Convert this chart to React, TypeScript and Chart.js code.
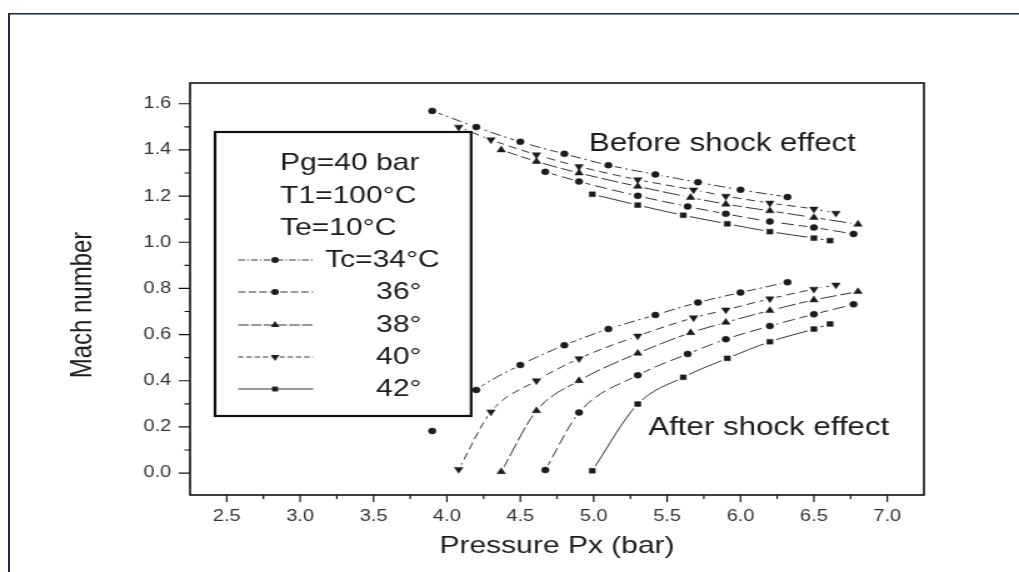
import React, { useEffect, useRef } from 'react';
import { Chart, registerables } from 'chart.js';

Chart.register(...registerables);

// Axis ticks
const pressureTicks = [2.5, 3.0, 3.5, 4.0, 4.5, 5.0, 5.5, 6.0, 6.5, 7.0];
const machTicks = [0.0, 0.2, 0.4, 0.6, 0.8, 1.0, 1.2, 1.4, 1.6];

// Tc = 34 °C
const px34 = [3.9, 4.2, 4.5, 4.8, 5.1, 5.42, 5.71, 6.0, 6.32];
const before34 = [1.569, 1.499, 1.435, 1.383, 1.334, 1.294, 1.26, 1.227, 1.196];
const after34 = [0.182, 0.36, 0.468, 0.554, 0.624, 0.685, 0.739, 0.782, 0.827];

// Tc = 36 °C
const px36 = [4.67, 4.9, 5.3, 5.64, 5.9, 6.2, 6.5, 6.77];
const before36 = [1.305, 1.263, 1.201, 1.155, 1.123, 1.09, 1.064, 1.036];
const after36 = [0.013, 0.262, 0.424, 0.516, 0.58, 0.637, 0.688, 0.731];

// Tc = 38 °C
const px38 = [4.37, 4.61, 4.9, 5.3, 5.66, 5.9, 6.2, 6.5, 6.8];
const before38 = [1.4, 1.35, 1.3, 1.242, 1.194, 1.165, 1.136, 1.107, 1.078];
const after38 = [0.006, 0.27, 0.4, 0.519, 0.608, 0.653, 0.704, 0.75, 0.786];

// Tc = 40 °C
const px40 = [4.08, 4.3, 4.61, 4.9, 5.3, 5.68, 5.9, 6.2, 6.5, 6.65];
const before40 = [1.499, 1.444, 1.379, 1.328, 1.271, 1.227, 1.2, 1.17, 1.144, 1.126];
const after40 = [0.016, 0.265, 0.4, 0.496, 0.594, 0.673, 0.707, 0.755, 0.797, 0.815];

// Tc = 42 °C
const px42 = [4.99, 5.3, 5.61, 5.91, 6.2, 6.5, 6.61];
const before42 = [1.208, 1.161, 1.117, 1.08, 1.046, 1.018, 1.007];
const after42 = [0.01, 0.299, 0.415, 0.497, 0.569, 0.624, 0.646];

const conditionLines = ['Pg=40 bar', 'T1=100°C', 'Te=10°C'];
const tcLabels = ['Tc=34°C', '36°', '38°', '40°', '42°'];

const INK = '#1c1c1c';
const LINE = '#333';
const FONT = '"Liberation Sans", Arial, sans-serif';
const CANVAS_W = 815;
const CANVAS_H = 572;
const STRETCH = 1019 / CANVAS_W;

type MarkStyle = { shape: 'circle' | 'triangle' | 'rect'; rotation: number; radius: number; dash: number[] };

const styles: MarkStyle[] = [
  { shape: 'circle', rotation: 0, radius: 3, dash: [9, 3, 2, 3] },
  { shape: 'circle', rotation: 0, radius: 3, dash: [10, 4] },
  { shape: 'triangle', rotation: 0, radius: 3.9, dash: [14, 3] },
  { shape: 'triangle', rotation: 180, radius: 3.9, dash: [7, 4] },
  { shape: 'rect', rotation: 0, radius: 3.4, dash: [] },
];

const groups = [
  { px: px34, before: before34, after: after34 },
  { px: px36, before: before36, after: after36 },
  { px: px38, before: before38, after: after38 },
  { px: px40, before: before40, after: after40 },
  { px: px42, before: before42, after: after42 },
];

function makeDataset(px: number[], ys: number[], st: MarkStyle, hideFirstSegment: boolean) {
  return {
    data: px.map((x, k) => ({ x, y: ys[k] })),
    borderColor: LINE,
    borderWidth: 1,
    borderDash: st.dash,
    pointStyle: st.shape,
    pointRotation: st.rotation,
    pointRadius: st.radius,
    pointBackgroundColor: INK,
    pointBorderColor: INK,
    pointBorderWidth: 0.5,
    cubicInterpolationMode: 'monotone',
    fill: false,
    segment: hideFirstSegment
      ? { borderColor: (c: any) => (c.p0DataIndex === 0 ? 'rgba(0,0,0,0)' : undefined) }
      : undefined,
  };
}

function drawMarker(ctx: CanvasRenderingContext2D, st: MarkStyle, x: number, y: number) {
  ctx.save();
  ctx.fillStyle = INK;
  ctx.beginPath();
  if (st.shape === 'circle') {
    ctx.arc(x, y, st.radius, 0, Math.PI * 2);
  } else if (st.shape === 'rect') {
    const s = st.radius * Math.SQRT1_2;
    ctx.rect(x - s, y - s, 2 * s, 2 * s);
  } else {
    let a = (st.rotation * Math.PI) / 180;
    ctx.moveTo(x + Math.sin(a) * st.radius, y - Math.cos(a) * st.radius);
    for (let i = 0; i < 2; i++) {
      a += (2 * Math.PI) / 3;
      ctx.lineTo(x + Math.sin(a) * st.radius, y - Math.cos(a) * st.radius);
    }
    ctx.closePath();
  }
  ctx.fill();
  ctx.restore();
}

const paperPlugin = {
  id: 'paper',
  afterDatasetsDraw(chart: any) {
    const ctx: CanvasRenderingContext2D = chart.ctx;
    const metas = chart.getSortedVisibleDatasetMetas();
    // open a small gap in the curves around every marker
    ctx.save();
    ctx.fillStyle = '#fff';
    metas.forEach((m: any) =>
      m.data.forEach((p: any) => {
        ctx.beginPath();
        ctx.arc(p.x, p.y, 5.5, 0, Math.PI * 2);
        ctx.fill();
      })
    );
    ctx.restore();
    metas.forEach((m: any) => m.data.forEach((p: any) => p.draw(ctx, chart.chartArea)));
  },
  afterDraw(chart: any) {
    const ctx: CanvasRenderingContext2D = chart.ctx;
    const { left, right, top, bottom } = chart.chartArea;
    const xs = chart.scales.x;
    const ys = chart.scales.y;
    ctx.save();
    // plot frame
    ctx.strokeStyle = '#111';
    ctx.lineWidth = 1.6;
    ctx.strokeRect(left, top, right - left, bottom - top);

    // tick marks
    ctx.lineWidth = 1.2;
    ctx.beginPath();
    pressureTicks.forEach((v) => {
      const x = xs.getPixelForValue(v);
      ctx.moveTo(x, bottom);
      ctx.lineTo(x, bottom + 7);
      const mv = v + 0.25;
      if (mv < xs.max) {
        const mx = xs.getPixelForValue(mv);
        ctx.moveTo(mx, bottom);
        ctx.lineTo(mx, bottom + 4);
      }
    });
    machTicks.forEach((v) => {
      const y = ys.getPixelForValue(v);
      ctx.moveTo(left, y);
      ctx.lineTo(left - 9, y);
      const mv = v + 0.1;
      if (mv < ys.max) {
        const my = ys.getPixelForValue(mv);
        ctx.moveTo(left, my);
        ctx.lineTo(left - 4.5, my);
      }
    });
    ctx.stroke();

    // axis titles
    ctx.fillStyle = INK;
    ctx.font = `24px ${FONT}`;
    ctx.textAlign = 'center';
    ctx.textBaseline = 'middle';
    ctx.fillText('Pressure Px (bar)', (left + right) / 2, 546);
    ctx.save();
    ctx.translate(66.5, 305);
    ctx.rotate(-Math.PI / 2);
    ctx.fillText('Mach number', 0, 0);
    ctx.restore();

    // region labels
    ctx.font = `25px ${FONT}`;
    ctx.textAlign = 'left';
    ctx.fillText('Before shock effect', 471, 144);
    ctx.fillText('After shock effect', 518.5, 428);

    // legend box
    const lgL = 172, lgT = 132, lgR = 376.8, lgB = 416;
    ctx.fillStyle = '#fff';
    ctx.fillRect(lgL, lgT, lgR - lgL, lgB - lgT);
    ctx.strokeStyle = '#111';
    ctx.lineWidth = 2.2;
    ctx.strokeRect(lgL, lgT, lgR - lgL, lgB - lgT);

    ctx.fillStyle = INK;
    ctx.font = `24px ${FONT}`;
    const condY = [163, 196, 228];
    conditionLines.forEach((t, i) => ctx.fillText(t, 224, condY[i]));

    const entryY = [260, 292, 325, 357, 389];
    tcLabels.forEach((t, i) => {
      const y = entryY[i];
      const st = styles[i];
      ctx.save();
      ctx.strokeStyle = LINE;
      ctx.lineWidth = 1;
      ctx.setLineDash(st.dash.length ? st.dash.map((d) => d * 0.6) : []);
      ctx.beginPath();
      ctx.moveTo(190.5, y);
      ctx.lineTo(250.5, y);
      ctx.stroke();
      ctx.restore();
      drawMarker(ctx, st, 220, y);
      ctx.fillStyle = INK;
      ctx.fillText(t, i === 0 ? 260 : 300.8, y);
    });
    ctx.restore();
  },
};

export default function App() {
  const ref = useRef<HTMLCanvasElement | null>(null);

  useEffect(() => {
    document.documentElement.style.overflow = 'hidden';
    document.body.style.margin = '0';
    document.body.style.overflow = 'hidden';
    if (!ref.current) return;
    const datasets: any[] = [];
    groups.forEach((g, i) => {
      datasets.push(makeDataset(g.px, g.before, styles[i], false));
      datasets.push(makeDataset(g.px, g.after, styles[i], i === 0));
    });
    const chart = new Chart(ref.current, {
      type: 'line',
      data: { datasets },
      options: {
        animation: false,
        responsive: false,
        devicePixelRatio: 1,
        layout: { padding: { left: 0, top: 83, right: CANVAS_W - 739, bottom: 0 } },
        plugins: { legend: { display: false }, tooltip: { enabled: false } },
        scales: {
          x: {
            type: 'linear',
            min: 2.25,
            max: 7.25,
            grid: { display: false, drawTicks: false },
            border: { display: false },
            afterBuildTicks: (s: any) => {
              s.ticks = pressureTicks.map((value) => ({ value }));
            },
            afterFit: (s: any) => {
              s.height = 77;
            },
            ticks: {
              autoSkip: false,
              maxRotation: 0,
              padding: 12,
              color: '#333',
              font: { family: FONT, size: 16 },
              callback: (v: any) => Number(v).toFixed(1),
            },
          },
          y: {
            type: 'linear',
            min: -0.095,
            max: 1.69,
            grid: { display: false, drawTicks: false },
            border: { display: false },
            afterBuildTicks: (s: any) => {
              s.ticks = machTicks.map((value) => ({ value }));
            },
            afterFit: (s: any) => {
              s.width = 152;
            },
            ticks: {
              autoSkip: false,
              padding: 15,
              color: '#333',
              font: { family: FONT, size: 16 },
              callback: (v: any) => Number(v).toFixed(1),
            },
          },
        },
      } as any,
      plugins: [paperPlugin],
    });
    return () => chart.destroy();
  }, []);

  return (
    <div style={{ position: 'fixed', left: 0, top: 0, width: 1019, height: 572, background: '#fff', overflow: 'hidden' }}>
      <div style={{ position: 'absolute', left: 8, top: 13, width: 1100, height: 1, background: '#1c2b4a' }} />
      <div style={{ position: 'absolute', left: 8, top: 14, width: 1100, height: 1, background: '#7d8ca3' }} />
      <div style={{ position: 'absolute', left: 8, top: 13, width: 2, height: 600, background: '#1c2b4a' }} />
      <div style={{ position: 'absolute', left: 0, top: 0, transform: `scaleX(${STRETCH})`, transformOrigin: '0 0' }}>
        <canvas ref={ref} width={CANVAS_W} height={CANVAS_H} style={{ width: CANVAS_W, height: CANVAS_H, display: 'block' }} />
      </div>
    </div>
  );
}
